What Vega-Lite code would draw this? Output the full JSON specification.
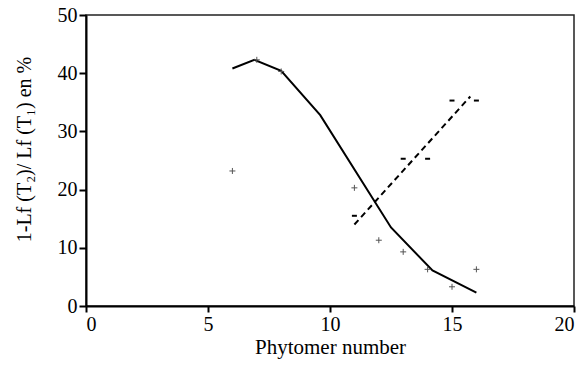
{
  "$schema": "https://vega.github.io/schema/vega-lite/v6.json",
  "autosize": "none",
  "width": 488,
  "height": 291,
  "padding": {"left": 86, "top": 15, "right": 10, "bottom": 59},
  "background": "white",
  "config": {
    "font": "Liberation Serif",
    "view": {"stroke": "#222", "strokeWidth": 1.5},
    "axis": {
      "grid": false,
      "domainColor": "black",
      "domainWidth": 2,
      "tickColor": "black",
      "tickWidth": 2,
      "labelFont": "Liberation Serif",
      "labelFontSize": 20,
      "labelColor": "black",
      "titleFont": "Liberation Serif",
      "titleFontSize": 21,
      "titleFontWeight": "normal",
      "titleColor": "black"
    }
  },
  "data": {
    "values": [
      {"series": "model", "x": 6, "y": 40.8},
      {"series": "model", "x": 6.9, "y": 42.3},
      {"series": "model", "x": 8, "y": 40.4},
      {"series": "model", "x": 9.6, "y": 32.8},
      {"series": "model", "x": 12.5, "y": 13.5},
      {"series": "model", "x": 14.2, "y": 6.1},
      {"series": "model", "x": 16, "y": 2.3},
      {"series": "obs", "x": 6, "y": 23.2},
      {"series": "obs", "x": 7, "y": 42.3},
      {"series": "obs", "x": 8, "y": 40.3},
      {"series": "obs", "x": 11, "y": 20.3},
      {"series": "obs", "x": 12, "y": 11.3},
      {"series": "obs", "x": 13, "y": 9.3},
      {"series": "obs", "x": 14, "y": 6.3},
      {"series": "obs", "x": 15, "y": 3.3},
      {"series": "obs", "x": 16, "y": 6.3},
      {"series": "obs2", "x": 11, "y": 15.5},
      {"series": "obs2", "x": 13, "y": 25.3},
      {"series": "obs2", "x": 14, "y": 25.3},
      {"series": "obs2", "x": 15, "y": 35.3},
      {"series": "obs2", "x": 16, "y": 35.3},
      {"series": "fit", "x": 11, "y": 14.0},
      {"series": "fit", "x": 15.75, "y": 36.0}
    ]
  },
  "encoding": {
    "x": {
      "field": "x",
      "type": "quantitative",
      "scale": {"domain": [0, 20], "nice": false},
      "axis": {
        "title": "Phytomer number",
        "values": [0, 5, 10, 15, 20],
        "tickSize": 6,
        "labelPadding": 2,
        "titleY": 47,
        "titleBaseline": "alphabetic"
      }
    },
    "y": {
      "field": "y",
      "type": "quantitative",
      "scale": {"domain": [0, 50], "nice": false},
      "axis": {
        "title": "1-Lf (T₂)/ Lf (T₁) en %",
        "titleFontSize": 20,
        "values": [0, 10, 20, 30, 40, 50],
        "tickSize": 7,
        "labelPadding": 2,
        "titleX": -56,
        "titleY": 134,
        "titleBaseline": "alphabetic"
      }
    }
  },
  "layer": [
    {
      "transform": [{"filter": "datum.series === 'model'"}],
      "mark": {"type": "line", "color": "black", "strokeWidth": 2}
    },
    {
      "transform": [{"filter": "datum.series === 'fit'"}],
      "mark": {"type": "line", "color": "black", "strokeWidth": 2, "strokeDash": [6, 4]}
    },
    {
      "transform": [{"filter": "datum.series === 'obs'"}],
      "mark": {"type": "point", "shape": "M-1,0L1,0M0,-1L0,1", "filled": false, "stroke": "#555", "strokeWidth": 1, "size": 36, "opacity": 1}
    },
    {
      "transform": [{"filter": "datum.series === 'obs2'"}],
      "mark": {"type": "point", "shape": "M-1,0L1,0", "filled": false, "stroke": "black", "strokeWidth": 2, "size": 25, "opacity": 1}
    }
  ]
}
